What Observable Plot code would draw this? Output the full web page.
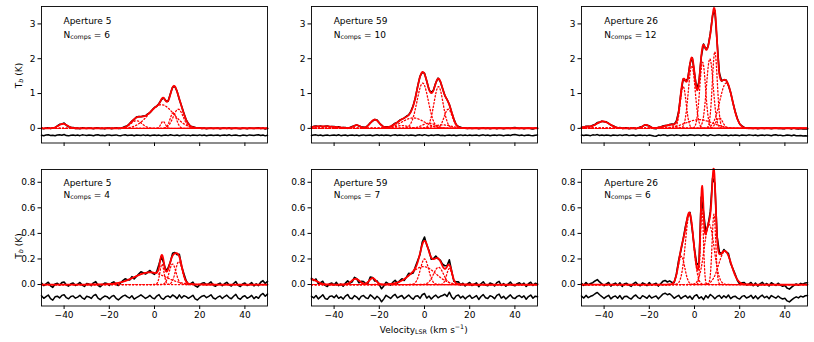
<!DOCTYPE html>
<html><head><meta charset="utf-8">
<script src="https://cdn.jsdelivr.net/npm/d3@7"></script>
<script src="https://cdn.jsdelivr.net/npm/@observablehq/plot@0.6"></script>
<style>
body{margin:0;background:#fff;}
#chart{position:relative;width:814px;height:342px;font-family:"DejaVu Sans",sans-serif;overflow:hidden;}
.panel{position:absolute;}
#overlay{position:absolute;left:0;top:0;pointer-events:none;}
</style></head><body><div id="chart"></div>
<script>
// ---------- tick labels / categories ----------
const velocityTicks = [-40, -20, 0, 20, 40];
const topYTicks = [0, 1, 2, 3];
const bottomYTicks = [0, 0.2, 0.4, 0.6, 0.8];
const apertureNames = ["Aperture 5", "Aperture 59", "Aperture 26"];
const nCompsTop = [6, 10, 12];
const nCompsBottom = [4, 7, 6];
const topYDomain = [-0.42, 3.5];
const bottomYDomain = [-0.168, 0.9];
const topResidOffset = -0.2;
const bottomResidOffset = -0.1;

// ---------- Gaussian components (amplitude K, centre km/s, sigma km/s) ----------
// top row
const t1Amp = [0.13, 0.22, 0.68, 0.2, 0.45, 0.55];
const t1Cen = [-40.5, -8, 3, 3.8, 8.3, 10.5];
const t1Sig = [2, 2.5, 5.5, 1.0, 1.4, 2.2];

const t2Amp = [0.06, 0.09, 0.25, 0.3, 1.3, 1.2, 0.55, 0.08, 0.15, 0.1];
const t2Cen = [-45, -30, -22, -5, -0.8, 6.2, 10.5, -10, 2, 8];
const t2Sig = [6, 1.5, 2.0, 5, 2.5, 2.0, 1.8, 3, 3, 4];

const t3Amp = [0.2, 0.1, 0.08, 1.2, 1.8, 1.9, 2.0, 2.2, 1.3, 0.25, 0.3, 0.04];
const t3Cen = [-40.5, -21.5, -11, -5.0, -1.2, 3.6, 6.8, 9.0, 14, 2, 11, -48];
const t3Sig = [3, 1.5, 3, 1.3, 1.5, 1.3, 1.5, 1.1, 2.8, 6, 1.5, 2];

// bottom row
const b1Amp = [0.095, 0.16, 0.16, 0.18];
const b1Cen = [-2, 3.3, 8, 10.8];
const b1Sig = [7, 0.9, 1.5, 1.5];

const b2Amp = [0.04, 0.045, 0.05, 0.2, 0.14, 0.135, 0.125];
const b2Cen = [-50, -30.5, -23, 0, -0.5, 6.2, 11];
const b2Sig = [2.5, 1.8, 1.5, 1.8, 5.5, 2.2, 1.2];

const b3Amp = [0.22, 0.55, 0.6, 0.47, 0.55, 0.26];
const b3Cen = [-5.8, -2.2, 3.3, 6.5, 8.6, 13.5];
const b3Sig = [1.5, 1.8, 0.65, 2.2, 0.8, 2.8];

// ---------- residuals (data - model), mK, one value per 1 km/s channel from -50 to +50 ----------
const t1Resid = [5,-10,8,15,-6,3,-12,9,18,2, 25,-8,-15,4,11,-3,7,-9,14,6, -5,12,3,-11,8,16,-4,2,-13,9, 10,-7,4,13,-2,-9,6,15,-5,3, 8,-12,11,5,-6,14,-3,9,-10,4, 12,-5,7,-14,3,10,-8,16,2,-6, 9,-11,4,13,-3,6,-9,11,5,-7, 14,-4,8,-10,2,12,-6,3,9,-13, 6,11,-5,15,-8,4,10,-2,-12,7, 3,-9,13,5,-4,10,17,-6,8,-15, 2];
const t2Resid = [-6,9,14,-3,7,-11,4,12,-8,5, 10,-4,16,-9,3,8,-13,6,11,-2, 7,-10,5,13,-6,2,9,-12,4,15, -3,8,-7,11,4,-14,6,18,-5,10, 2,-8,13,-4,9,5,-11,7,14,-6, 20,4,-9,12,-3,8,15,-7,3,-10, 6,11,-5,9,-12,4,13,-2,7,-8, 12,-6,3,10,-9,5,14,-4,8,-11, 4,9,-7,13,2,-10,6,11,-3,15, 22,8,-5,12,-9,3,10,-6,-14,5, 9];
const t3Resid = [8,-5,12,3,-9,14,6,22,-4,10, -7,11,4,-12,9,2,-6,13,-3,7, 15,-8,5,10,-11,3,12,-4,6,-9, 11,-3,-18,-25,7,-6,14,9,-10,4, 13,-7,18,6,-12,8,3,-5,16,10, -4,12,7,-9,15,3,-11,20,5,-8, 9,14,-6,4,11,-13,7,-2,10,5, -9,12,3,-7,14,6,-4,9,-11,2, 8,-5,13,4,-10,7,15,-3,6,-12, -6,10,3,-14,8,-9,-15,-4,-20,-12, -18];
const b1Resid = [12,-8,5,18,-10,-22,4,9,-5,15, 20,-3,-12,6,11,-7,2,16,-4,-15, 8,3,-9,13,22,-6,-18,-2,10,5, -11,7,14,-8,-20,-5,9,17,3,-6, 12,-14,-3,8,19,6,-9,2,15,-4, -12,10,21,-7,-16,4,11,-2,18,7, -10,19,-6,13,5,-8,3,16,-12,-21, -4,9,14,-3,7,20,-5,-13,2,11, -9,6,17,-2,-11,8,23,-6,-15,4, 12,-7,1,15,-10,5,-8,18,30,8, 25];
const b2Resid = [8,-5,14,-12,3,20,-9,-16,6,11, -3,17,-8,4,-14,9,22,-6,-11,13, 2,-18,7,15,-4,-10,19,5,-13,8, -7,-35,-12,16,4,-9,11,23,-5,6, 14,-11,3,18,-2,-15,9,12,-8,20, 30,-6,10,-13,5,17,-4,8,14,24, 7,40,3,-14,11,18,-5,9,-12,4, 16,-8,2,13,-17,6,21,-3,-9,12, 5,-11,15,25,-6,8,-13,3,19,-4, -10,7,14,-2,11,-15,6,18,-7,9, 4];
const b3Resid = [10,-6,15,-3,8,14,28,38,20,6, -9,5,16,-12,3,11,-7,14,-15,6, 9,-4,-14,7,18,-2,-10,13,4,-8, 15,-6,3,10,-12,6,25,32,20,28, 12,-8,5,16,-10,3,14,-6,9,-15, 11,20,-9,4,-18,13,-5,22,8,-11, 6,15,-7,12,-3,18,-10,4,9,-6, -14,7,13,-5,2,16,-9,11,-12,5, 17,-3,8,-11,14,3,-7,10,-4,-13, -8,-28,-36,-20,-6,4,-5,9,2,12, 14];

// ---------- layout ----------
const colFrameLeft = [40.5, 310.7, 581.3];
const rowFrameTop = [6, 169.3];
const frameW = 226, frameH = 136.5;
const mL = 40, mR = 4;

const chart = document.getElementById("chart");
const vFine = d3.range(-50, 50.0001, 0.2);

function gauss(a, c, s, v) { return a * Math.exp(-((v - c) ** 2) / (2 * s * s)); }
function model(amp, cen, sig, v) {
  let t = 0;
  for (let i = 0; i < amp.length; i++) t += gauss(amp[i], cen[i], sig[i], v);
  return t;
}
const minus = (s) => String(s).replace("-", "\u2212");

function drawPanel(row, col, amp, cen, sig, resid) {
  const bottom = row === 1;
  const offset = bottom ? bottomResidOffset : topResidOffset;
  const fit = vFine.map(v => ({v, T: model(amp, cen, sig, v)}));
  const comps = amp.flatMap((a, i) => vFine.map(v => ({v, T: gauss(a, cen[i], sig[i], v), k: i})));
  const data = resid.map((r, j) => { const v = -50 + j; return {v, T: model(amp, cen, sig, v) + r / 1000}; });
  const res = resid.map((r, j) => ({v: -50 + j, T: offset + r / 1000}));
  const mT = 6, mB = bottom ? 30 : 10;
  const svg = Plot.plot({
    width: mL + frameW + mR,
    height: mT + frameH + mB,
    marginLeft: mL, marginRight: mR, marginTop: mT, marginBottom: mB,
    style: {fontFamily: "DejaVu Sans", fontSize: "9px", color: "black", background: "transparent", overflow: "visible"},
    x: {domain: [-50, 50], ticks: velocityTicks, tickSize: 3.5, tickPadding: 2.5, label: null,
        tickFormat: bottom ? (d => minus(d)) : (() => "")},
    y: {domain: bottom ? bottomYDomain : topYDomain, ticks: bottom ? bottomYTicks : topYTicks,
        tickSize: 3.5, tickPadding: 2.5, label: null,
        tickFormat: bottom ? d3.format(".1f") : d3.format("d")},
    marks: [
      Plot.line(data, {x: "v", y: "T", stroke: "black", strokeWidth: 1.6}),
      Plot.line(fit, {x: "v", y: "T", stroke: "red", strokeWidth: 1.8}),
      Plot.line(comps, {x: "v", y: "T", z: "k", stroke: "red", strokeWidth: 1.3, strokeDasharray: "1.3,2.2"}),
      Plot.line(res, {x: "v", y: "T", stroke: "black", strokeWidth: 1.5}),
      Plot.frame({stroke: "black", strokeWidth: 0.9})
    ]
  });
  svg.classList.add("panel");
  svg.style.left = (colFrameLeft[col] - mL) + "px";
  svg.style.top = (rowFrameTop[row] - mT) + "px";
  chart.appendChild(svg);
}

drawPanel(0, 0, t1Amp, t1Cen, t1Sig, t1Resid);
drawPanel(0, 1, t2Amp, t2Cen, t2Sig, t2Resid);
drawPanel(0, 2, t3Amp, t3Cen, t3Sig, t3Resid);
drawPanel(1, 0, b1Amp, b1Cen, b1Sig, b1Resid);
drawPanel(1, 1, b2Amp, b2Cen, b2Sig, b2Resid);
drawPanel(1, 2, b3Amp, b3Cen, b3Sig, b3Resid);

// ---------- text annotations ----------
const NS = "http://www.w3.org/2000/svg";
const ov = document.createElementNS(NS, "svg");
ov.setAttribute("id", "overlay");
ov.setAttribute("width", 814);
ov.setAttribute("height", 342);
ov.setAttribute("font-family", "DejaVu Sans");
ov.setAttribute("font-size", "9");
chart.appendChild(ov);

const apBase = [24.2, 185.6];
const ncBase = [37.6, 197.6];
let html = "";
for (let row = 0; row < 2; row++) {
  const nc = row === 0 ? nCompsTop : nCompsBottom;
  for (let col = 0; col < 3; col++) {
    const x = colFrameLeft[col] + 23;
    html += `<text x="${x}" y="${apBase[row]}">${apertureNames[col]}</text>`;
    html += `<text x="${x}" y="${ncBase[row]}">N<tspan font-size="6.3" dy="1.8">comps</tspan><tspan dy="-1.8"> = ${nc[col]}</tspan></text>`;
  }
}
const yLabCenters = [75.5, 246];
for (const cy of yLabCenters) {
  html += `<text transform="translate(21.6,${cy}) rotate(-90)" text-anchor="middle">T<tspan font-size="6.3" font-style="italic" dy="1.8">b</tspan><tspan dy="-1.8"> (K)</tspan></text>`;
}
html += `<text x="423.7" y="332.6" text-anchor="middle">Velocity<tspan font-size="6.3" dy="1.8">LSR</tspan><tspan dy="-1.8"> (km s</tspan><tspan font-size="6.3" dy="-3.4">\u22121</tspan><tspan dy="3.4">)</tspan></text>`;
ov.innerHTML = html;
</script></body></html>
